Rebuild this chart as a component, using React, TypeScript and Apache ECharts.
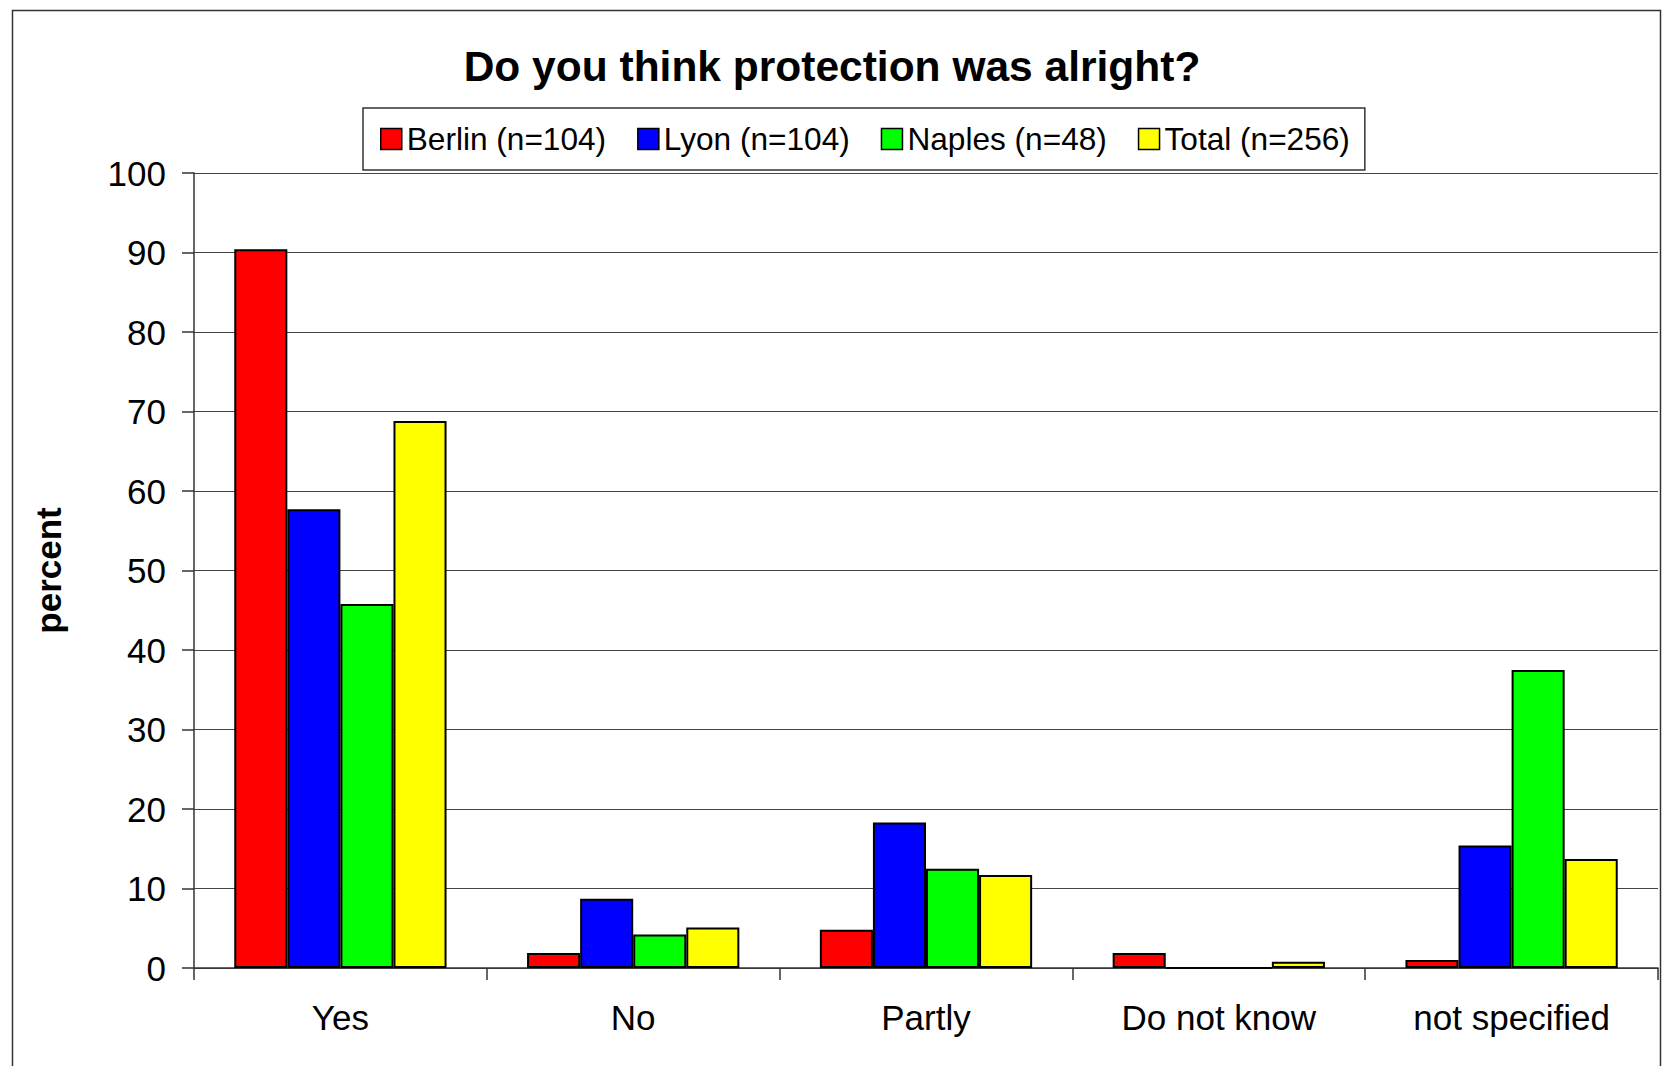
import React, { useEffect, useRef } from "react";
import * as echarts from "echarts";

const categories = ["Yes", "No", "Partly", "Do not know", "not specified"];
const seriesNames = ["Berlin (n=104)", "Lyon (n=104)", "Naples (n=48)", "Total (n=256)"];
const berlin = [90.4, 1.9, 4.8, 1.9, 1.0];
const lyon = [57.7, 8.7, 18.3, 0, 15.4];
const naples = [45.8, 4.2, 12.5, 0, 37.5];
const total = [68.8, 5.1, 11.7, 0.8, 13.7];
const colors = ["#ff0000", "#0000ff", "#00ff00", "#ffff00"];
const yTicks = { min: 0, max: 100, interval: 10 };

const FONT = "'Liberation Sans', Arial, sans-serif";

export default function App() {
  const ref = useRef<HTMLDivElement>(null);
  useEffect(() => {
    if (!ref.current) return;
    const chart = echarts.init(ref.current, null, { renderer: "svg" });
    const data = [berlin, lyon, naples, total];
    chart.setOption({
      animation: false,
      backgroundColor: "#ffffff",
      textStyle: { fontFamily: FONT },
      title: {
        text: "Do you think protection was alright?",
        left: "center",
        top: 40,
        textStyle: { fontFamily: FONT, fontSize: 42.5, fontWeight: "bold", color: "#000" },
      },
      legend: {
        data: seriesNames,
        left: 363,
        top: 108,
        orient: "horizontal",
        padding: [15, 15, 15, 17],
        itemGap: 31,
        itemWidth: 21,
        itemHeight: 21,
        icon: "rect",
        borderColor: "#333",
        borderWidth: 1.5,
        itemStyle: { borderColor: "#000", borderWidth: 1.5 },
        textStyle: { fontFamily: FONT, fontSize: 31.6, color: "#000" },
      },
      graphic: [
        {
          type: "rect",
          left: 10,
          top: 8,
          shape: { width: 1648, height: 1100 },
          style: { fill: "none", stroke: "#333", lineWidth: 1.5 },
          silent: true,
          z: -1,
        },
      ],
      grid: { left: 194, right: 6, top: 173, bottom: 98 },
      xAxis: {
        type: "category",
        data: categories,
        axisLine: { show: true, lineStyle: { color: "#333", width: 1.5 } },
        axisTick: { show: true, length: 12, lineStyle: { color: "#333", width: 1.5 } },
        axisLabel: { fontFamily: FONT, fontSize: 35, color: "#000", margin: 32 },
      },
      yAxis: {
        type: "value",
        min: yTicks.min,
        max: yTicks.max,
        interval: yTicks.interval,
        name: "percent",
        nameLocation: "middle",
        nameGap: 128,
        nameRotate: 90,
        nameTextStyle: { fontFamily: FONT, fontSize: 35, fontWeight: "bold", color: "#000" },
        axisLine: { show: true, lineStyle: { color: "#333", width: 1.5 } },
        axisTick: { show: true, length: 12, lineStyle: { color: "#333", width: 1.5 } },
        axisLabel: { fontFamily: FONT, fontSize: 35, color: "#000", margin: 28 },
        splitLine: { show: true, lineStyle: { color: "#444", width: 1.2 } },
      },
      series: seriesNames.map((name, i) => ({
        name,
        type: "bar",
        data: data[i],
        barGap: "0%",
        barCategoryGap: "27.5%",
        itemStyle: { color: colors[i], borderColor: "#000", borderWidth: 2 },
      })),
    });
    return () => chart.dispose();
  }, []);
  return (
    <div
      ref={ref}
      style={{ position: "absolute", left: 0, top: 0, width: 1664, height: 1066 }}
    />
  );
}
